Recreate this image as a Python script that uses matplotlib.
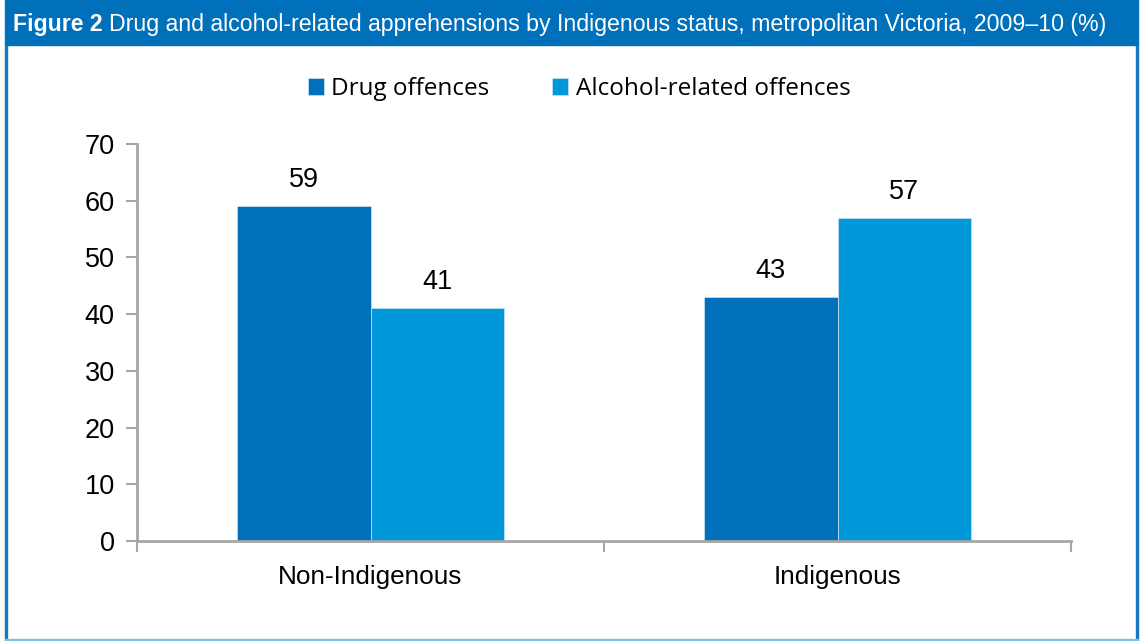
import matplotlib.pyplot as plt
from matplotlib.patches import Rectangle
import numpy as np

categories = ["Non-Indigenous", "Indigenous"]
drug = [59, 43]
alcohol = [41, 57]
series_names = ["Drug offences", "Alcohol-related offences"]
yticks = [0, 10, 20, 30, 40, 50, 60, 70]
title_bold = "Figure 2 "
title_rest = "Drug and alcohol-related apprehensions by Indigenous status, metropolitan Victoria, 2009\u201310 (%)"

dark = "#0070BA"
light = "#0098D8"
grey = "#A6A6A6"

fig = plt.figure(figsize=(11.4, 6.41), dpi=100)

# frame and header band
fig.patches.append(Rectangle((0.004, 0.0), 0.002, 0.93, transform=fig.transFigure,
                             color="#1877C0", zorder=0))
fig.patches.append(Rectangle((0.9965, 0.0), 0.002, 0.93, transform=fig.transFigure,
                             color="#1877C0", zorder=0))
fig.patches.append(Rectangle((0.004, 0.0), 0.9945, 0.003, transform=fig.transFigure,
                             color="#7FBFE6", zorder=0))
fig.patches.append(Rectangle((0.004, 0.93), 0.9945, 0.07, transform=fig.transFigure,
                             color=dark, zorder=0))

# title: shrink until it spans the header width like the reference
title_font = ["Liberation Sans", "DejaVu Sans"]
renderer = fig.canvas.get_renderer()
target = 1091
size = 17
for _ in range(4):
    t1 = fig.text(0.011, 0.962, title_bold, color="white", fontsize=size, fontweight="bold",
                  family=title_font, va="center", ha="left")
    w1 = t1.get_window_extent(renderer).width
    t2 = fig.text(0.011 + w1 / 1140, 0.962, title_rest, color="white", fontsize=size,
                  family=title_font, va="center", ha="left")
    w2 = t2.get_window_extent(renderer).width
    if abs(w1 + w2 - target) < 3:
        break
    t1.remove()
    t2.remove()
    size = size * target / (w1 + w2)

lab_font = ["Liberation Sans", "DejaVu Sans"]
fs = 19.5

ax = fig.add_axes([0.1202, 0.156, 0.8193, 0.6193])
x = np.arange(len(categories))
w = 0.285
b1 = ax.bar(x - w / 2, drug, w, color=dark, edgecolor="#BFDDF2", linewidth=0.6, label=series_names[0])
b2 = ax.bar(x + w / 2, alcohol, w, color=light, edgecolor="#BFDDF2", linewidth=0.6, label=series_names[1])

for bars, vals in ((b1, drug), (b2, alcohol)):
    for r, v in zip(bars, vals):
        ax.text(r.get_x() + r.get_width() / 2, v + 2.3, str(v), ha="center", va="bottom",
                fontsize=fs, family=lab_font, color="black")

ax.set_xlim(-0.5, 1.5)
ax.set_ylim(0, 70)
ax.set_yticks(yticks)
ax.set_xticks([-0.5, 0.5, 1.5])
ax.set_xticklabels([])
ax.set_xticks(x, minor=True)
ax.set_xticklabels(categories, minor=True)
ax.tick_params(axis="x", which="minor", length=0, pad=17, labelsize=18.8)
ax.tick_params(axis="x", which="major", length=8, width=1.5, color=grey, direction="out")
ax.tick_params(axis="y", length=8, width=1.5, color=grey, direction="out", labelsize=fs, pad=8)
for lbl in ax.get_xticklabels(minor=True) + ax.get_yticklabels():
    lbl.set_family(lab_font)

for s in ("top", "right"):
    ax.spines[s].set_visible(False)
for s in ("left", "bottom"):
    ax.spines[s].set_color(grey)
    ax.spines[s].set_linewidth(2)

fig.legend(handles=[b1, b2], labels=series_names, loc="center", bbox_to_anchor=(0.508, 0.861),
           ncol=2, frameon=False, handlelength=0.65, handleheight=0.65,
           handletextpad=0.3, columnspacing=2.6, prop={"family": ["Open Sans", "DejaVu Sans"], "size": 17.5})

fig.savefig("out.png", dpi=100)
